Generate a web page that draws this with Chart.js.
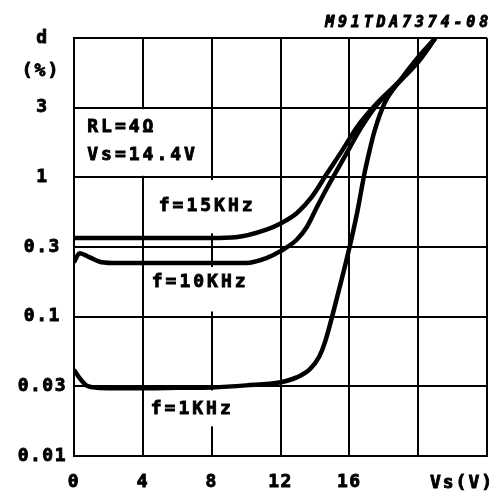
<!DOCTYPE html>
<html>
<head>
<meta charset="utf-8">
<script src="https://cdn.jsdelivr.net/npm/chart.js@4/dist/chart.umd.min.js"></script>
<style>
  html, body { margin: 0; padding: 0; background: #fff; }
  #wrap { width: 503px; height: 494px; }
</style>
</head>
<body>
<div id="wrap"><canvas id="distortion" width="503" height="494"></canvas></div>
<script>
// supply voltage (V) and distortion d (%)
const vs15 = [0, 2, 4, 6, 8, 9.4, 11.18, 12.0, 12.94, 13.82, 14.71, 15.59, 16.47, 17.47, 18.65, 20.0, 21.0];
const d15  = [0.35, 0.35, 0.35, 0.35, 0.35, 0.355, 0.405, 0.451, 0.538, 0.713, 1.065, 1.53, 2.23, 3.1, 4.4, 6.64, 10];

const vs10 = [0, 0.33, 0.88, 1.59, 2.52, 4, 6, 8, 10, 11.18, 12, 12.94, 13.53, 14.12, 14.71, 15.41, 16.0, 16.65, 17.65, 18.82, 20.0, 21.0];
const d10  = [0.236, 0.272, 0.256, 0.236, 0.233, 0.233, 0.233, 0.233, 0.233, 0.252, 0.281, 0.34, 0.424, 0.599, 0.835, 1.19, 1.58, 2.16, 3.21, 4.56, 6.64, 10];

const vs1 = [0, 0.33, 0.71, 1.15, 2, 4.17, 6, 8, 10, 12, 12.94, 13.71, 14.24, 14.59, 15.29, 16.0, 16.47, 16.88, 17.18, 17.47, 18.06, 19.0, 19.88, 21.0];
const d1  = [0.040, 0.0345, 0.0305, 0.0295, 0.0291, 0.0291, 0.0293, 0.0295, 0.0305, 0.0322, 0.035, 0.0404, 0.0498, 0.0647, 0.136, 0.295, 0.557, 1.065, 1.53, 2.09, 3.27, 4.9, 6.87, 10];

const xTicks = [0, 4, 8, 12, 16, 20, 24];
const xTickLabels = ['0', '4', '8', '12', '16', '', ''];
const yTicks = [0.01, 0.03, 0.1, 0.3, 1, 3, 10];
const yTickLabels = ['0.01', '0.03', '0.1', '0.3', '1', '3', 'd'];

// the printed chart spaces 0.01-0.03-0.1-0.3... gridlines evenly
const L3 = Math.log10(3);
function stepPos(v) {
    const l = Math.log10(v);
    const d = Math.floor(l);
    const f = l - d;
    return 2 * d + (f < L3 ? f / L3 : 1 + (f - L3) / (1 - L3));
}
function stepVal(p) {
    const d = Math.floor(p / 2);
    const r = p - 2 * d;
    const f = r < 1 ? r * L3 : L3 + (r - 1) * (1 - L3);
    return Math.pow(10, d + f);
}

class StepLogScale extends Chart.LogarithmicScale {
    static id = 'steplog';
    static defaults = {};
    getPixelForValue(value) {
        if (value === undefined || value === 0) value = this.min;
        if (value === null || isNaN(value)) return NaN;
        const a = stepPos(this.min), b = stepPos(this.max);
        return this.getPixelForDecimal((stepPos(value) - a) / (b - a));
    }
    getValueForPixel(pixel) {
        const a = stepPos(this.min), b = stepPos(this.max);
        return stepVal(a + this.getDecimalForPixel(pixel) * (b - a));
    }
}
Chart.register(StepLogScale);

const FONT = '"DejaVu Sans Mono", "Liberation Mono", monospace';

// white boxes hiding the grid behind the texts: [x0, x1, dLow, dHigh]
const boxes = [
    [0, 8, 1, 3],
    [4.5, 11, 0.37, 0.98],
    [4.5, 10.8, 0.106, 0.224],
    [4.5, 10.5, 0.0156, 0.0288]
];
const notes = [
    { text: 'RL=4Ω', x: 0.77, y: 2.19, align: 'left' },
    { text: 'Vs=14.4V', x: 0.77, y: 1.41, align: 'left' },
    { text: 'f=15KHz', x: 7.74, y: 0.61, align: 'center' },
    { text: 'f=10KHz', x: 7.33, y: 0.173, align: 'center' },
    { text: 'f=1KHz', x: 6.87, y: 0.0208, align: 'center' }
];

function heavyText(ctx, text, x, y) {
    ctx.fillText(text, x, y);
    ctx.strokeText(text, x, y);
}

const annotations = {
    id: 'annotations',
    beforeLayout(chart) { chart.ctx.letterSpacing = '1.5px'; },
    beforeDraw(chart) { chart.ctx.letterSpacing = '1.5px'; },
    beforeDatasetsDraw(chart) {
        const { ctx, scales: { x, y } } = chart;
        ctx.save();
        ctx.fillStyle = '#fff';
        boxes.forEach(([x0, x1, d0, d1b]) => {
            const l = x.getPixelForValue(x0) + 1.5, r = x.getPixelForValue(x1) - 1.5;
            const t = y.getPixelForValue(d1b) + 1.5, b = y.getPixelForValue(d0) - 1.5;
            ctx.fillRect(l, t, r - l, b - t);
        });
        ctx.fillStyle = '#000';
        ctx.strokeStyle = '#000';
        ctx.lineWidth = 0.9;
        ctx.font = 'bold 18px ' + FONT;
        ctx.letterSpacing = '3px';
        ctx.textBaseline = 'middle';
        notes.forEach(n => {
            ctx.textAlign = n.align;
            heavyText(ctx, n.text, x.getPixelForValue(n.x), y.getPixelForValue(n.y));
        });
        ctx.restore();
    },
    afterDraw(chart) {
        const { ctx, chartArea } = chart;
        ctx.save();
        ctx.fillStyle = '#000';
        ctx.strokeStyle = '#000';
        ctx.lineWidth = 0.9;
        ctx.textBaseline = 'middle';
        ctx.font = 'bold 18px ' + FONT;
        ctx.letterSpacing = '2px';
        ctx.textAlign = 'center';
        heavyText(ctx, '(%)', 41, 71);
        heavyText(ctx, 'Vs(V)', 462, chartArea.bottom + 27);
        ctx.font = 'italic bold 15px ' + FONT;
        ctx.letterSpacing = '3.8px';
        ctx.textAlign = 'right';
        heavyText(ctx, 'M91TDA7374-08', 492, 23);
        ctx.restore();
    }
};

function series(xs, ds) {
    return {
        data: xs.map((v, i) => ({ x: v, y: ds[i] })),
        borderColor: '#000',
        borderWidth: 4.5,
        pointRadius: 0,
        fill: false,
        cubicInterpolationMode: 'monotone',
        clip: 0
    };
}

const tickFont = { family: FONT, size: 18, weight: 'bold' };

new Chart(document.getElementById('distortion'), {
    type: 'line',
    data: {
        datasets: [series(vs15, d15), series(vs10, d10), series(vs1, d1)]
    },
    options: {
        responsive: false,
        animation: false,
        events: [],
        layout: { padding: { top: 38, right: 12, left: 0, bottom: 0 } },
        plugins: { legend: { display: false }, tooltip: { enabled: false } },
        scales: {
            x: {
                type: 'linear',
                min: 0,
                max: 24,
                afterBuildTicks: s => { s.ticks = xTicks.map(v => ({ value: v })); },
                afterFit: s => { s.height = 38; },
                grid: { color: '#000', lineWidth: 2, drawTicks: false },
                border: { color: '#000', width: 2 },
                ticks: {
                    color: '#000',
                    font: tickFont,
                    textStrokeColor: '#000',
                    textStrokeWidth: 0.9,
                    padding: 16,
                    maxRotation: 0,
                    autoSkip: false,
                    callback: (v, i) => xTickLabels[i]
                }
            },
            y: {
                type: 'steplog',
                min: 0.01,
                max: 10,
                afterBuildTicks: s => { s.ticks = yTicks.map(v => ({ value: v })); },
                afterFit: s => { s.width = 74; },
                grid: { color: '#000', lineWidth: 2, drawTicks: false },
                border: { color: '#000', width: 2 },
                ticks: {
                    color: '#000',
                    font: tickFont,
                    textStrokeColor: '#000',
                    textStrokeWidth: 0.9,
                    padding: 7,
                    crossAlign: 'center',
                    autoSkip: false,
                    callback: (v, i) => yTickLabels[i]
                }
            }
        }
    },
    plugins: [annotations]
});
</script>
</body>
</html>
